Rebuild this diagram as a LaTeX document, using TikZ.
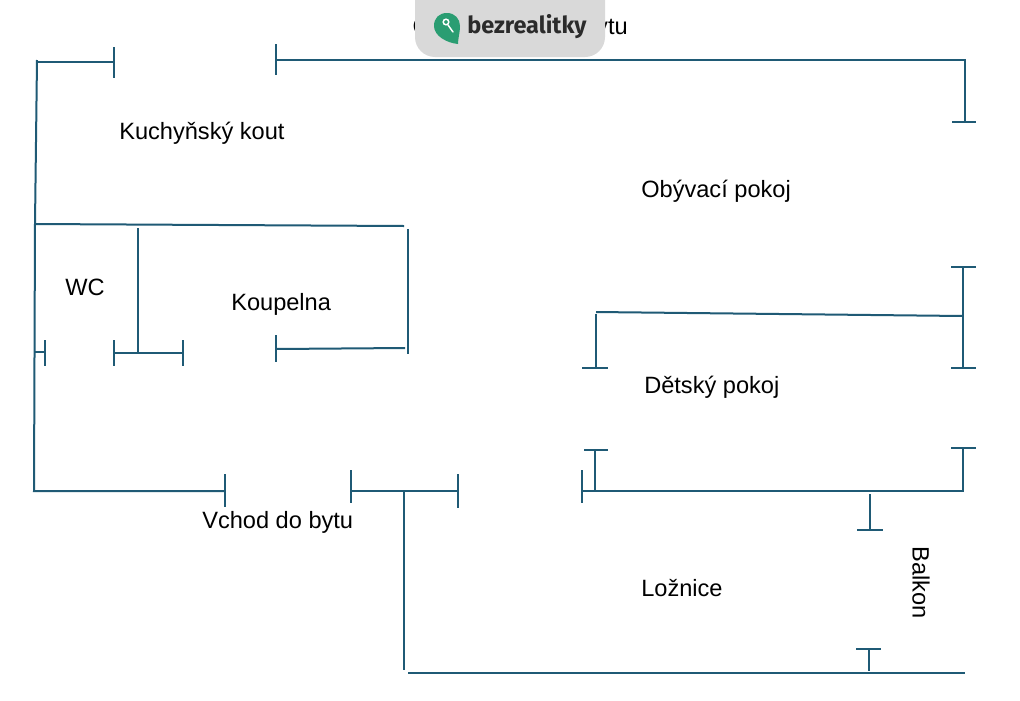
\documentclass[tikz,border=0pt]{standalone}
\usepackage{fontspec}
\setmainfont{Liberation Sans}
\newfontfamily\badgefont{Fira Sans}
\usepackage{color}
\definecolor{wallblue}{HTML}{1F5A75}
\definecolor{badgegrey}{HTML}{D9D9D9}
\definecolor{badgegreen}{HTML}{2A9D72}
\definecolor{badgetext}{HTML}{2B2B2B}
\tikzset{
  wall/.style={draw=wallblue,line width=1.5pt},
  room/.style={anchor=west,inner sep=0pt,font=\fontsize{17.7}{20}\selectfont}
}
\begin{document}
\begin{tikzpicture}[x=0.75pt,y=-0.75pt]
    \useasboundingbox (0,0) rectangle (1020,700);
    \fill[white] (0,0) rectangle (1020,700);

      % outer walls
      \draw[wall] (36,62) -- (114,62);
      \draw[wall] (37,60) -- (35,224) -- (34,491) -- (225,491);
      \draw[wall] (276,60) -- (965,60) -- (965,122);
      \draw[wall] (404,491) -- (404,670);
      \draw[wall] (408,673) -- (965,673);
      \draw[wall] (869,649) -- (869,671);

      % inner walls
      \draw[wall] (35,224) -- (404,226);
      \draw[wall] (408,229) -- (408,354);
      \draw[wall] (138,228) -- (138,353);
      \draw[wall] (114,353) -- (183,353);
      \draw[wall] (35,352) -- (45,352);
      \draw[wall] (276,349) -- (405,348);
      \draw[wall] (351,491) -- (458,491);
      \draw[wall] (582,491) -- (963,491) -- (963,448);
      \draw[wall] (595,450) -- (595,491);
      \draw[wall] (870,494) -- (870,530);
      \draw[wall] (596,312) -- (963,316);
      \draw[wall] (596,314) -- (596,368);
      \draw[wall] (963,267) -- (963,368);

      % door and window ends
      \foreach \x/\ya/\yb in {114/47/78,276/44/75,114/340/366,183/340/366,45/340/366,276/335/362,225/474/507,351/470/503,458/474/508,582/470/503}
        \draw[wall] (\x,\ya) -- (\x,\yb);
      \foreach \y/\xa/\xb in {122/952/976,649/856/881,450/584/608,448/951/976,530/857/883,368/582/608,267/951/976,368/951/976}
        \draw[wall] (\xa,\y) -- (\xb,\y);

      \node[room] (kuchyn)  at (119,133) {Kuchyňský kout};
      \node[room] (obyvak)  at (641,191) {Obývací pokoj};
      \node[room] (wc)      at (65,287)  {WC};
      \node[room] (koupel)  at (231,304) {Koupelna};
      \node[room] (detsky)  at (644,387) {Dětský pokoj};
      \node[room] (vchod)   at (202,522) {Vchod do bytu};
      \node[room] (loznice) at (641,588) {Ložnice};
      \node[room,rotate=-90,anchor=north west] (balkon) at (930,546) {Balkon};
      \node[room,anchor=east] (nadpis)  at (628,28)  {Celkový\hspace{2pt} nákres bytu};

      % badge
      \fill[badgegrey,rounded corners=15pt] (415,-40) -- (605,-40) -- (605,57) -- (415,57) -- cycle;
      \fill[badgegreen] (458,44) .. controls (447,43) and (434,36) .. (434,26)
        .. controls (434,18) and (439,13) .. (447,13)
        .. controls (455,13) and (460,19) .. (460,26)
        .. controls (460,33) and (458,38) .. (458,44) -- cycle;
      \draw[white,line width=1.1pt,line cap=round] (448,25) -- (453,32);
      \draw[white,line width=1.1pt] (446,22) circle (2.8);
      \node[anchor=west,inner sep=0pt,text=badgetext,font=\badgefont\bfseries\fontsize{17.6}{20}\selectfont] (logo) at (467,27) {bezrealitky};
\end{tikzpicture}
\end{document}
